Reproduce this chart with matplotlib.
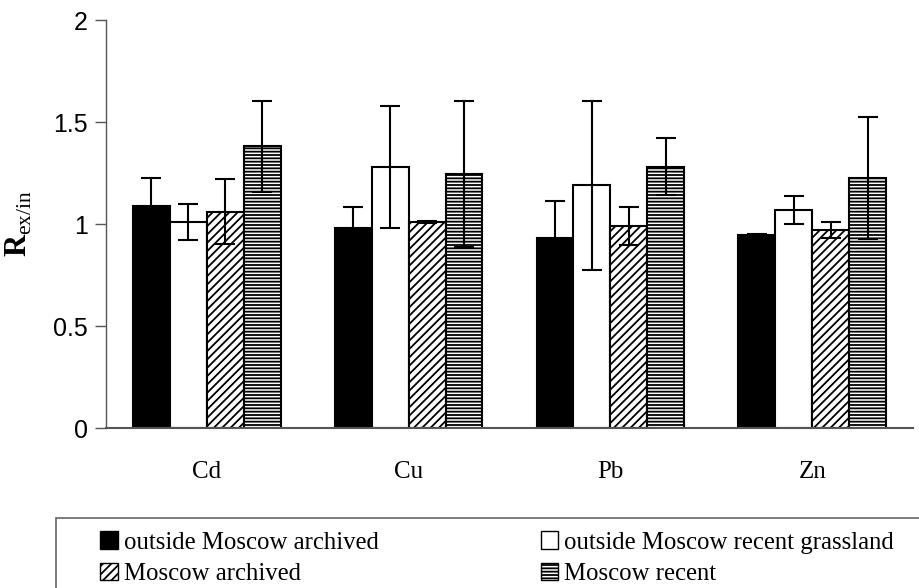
import numpy as np
import matplotlib
matplotlib.use('Agg')
import matplotlib.pyplot as plt
from matplotlib.patches import Patch, Rectangle

METALS = ['Cd', 'Cu', 'Pb', 'Zn']
SERIES = ['outside Moscow archived', 'outside Moscow recent grassland',
          'Moscow archived', 'Moscow recent']

# mean ratios and error half-widths per series, in METALS order
OUT_ARCHIVED = [1.09, 0.98, 0.93, 0.945]
OUT_RECENT = [1.01, 1.28, 1.19, 1.07]
MOS_ARCHIVED = [1.06, 1.01, 0.99, 0.97]
MOS_RECENT = [1.38, 1.245, 1.28, 1.225]

OUT_ARCHIVED_ERR = [0.135, 0.105, 0.185, 0.006]
OUT_RECENT_ERR = [0.09, 0.30, 0.415, 0.068]
MOS_ARCHIVED_ERR = [0.16, 0.004, 0.095, 0.04]
MOS_RECENT_ERR = [0.225, 0.36, 0.14, 0.30]

plt.rcParams['hatch.linewidth'] = 1.3
plt.rcParams['mathtext.fontset'] = 'custom'
plt.rcParams['mathtext.rm'] = 'Liberation Serif'
plt.rcParams['mathtext.bf'] = 'Liberation Serif:bold'

SERIF = 'Liberation Serif'
SANS = 'Liberation Sans'

STYLES = [
  dict(facecolor='black', edgecolor='black', hatch=None),
  dict(facecolor='white', edgecolor='black', hatch=None),
  dict(facecolor='white', edgecolor='black', hatch='////'),
  dict(facecolor='white', edgecolor='black', hatch='-----'),
]

fig = plt.figure(figsize=(9.19, 5.88), dpi=100)
ax = fig.add_axes([106 / 919, 160 / 588, 807 / 919, 408 / 588])

x = np.arange(len(METALS))
width = 0.183
values = [OUT_ARCHIVED, OUT_RECENT, MOS_ARCHIVED, MOS_RECENT]
errors = [OUT_ARCHIVED_ERR, OUT_RECENT_ERR, MOS_ARCHIVED_ERR, MOS_RECENT_ERR]

handles = []
for i, (vals, errs, st) in enumerate(zip(values, errors, STYLES)):
  pos = x + (i - 1.5) * width
  ax.bar(pos, vals, width, linewidth=1.5, zorder=2, **st)
  ax.errorbar(pos, vals, yerr=errs, fmt='none', ecolor='black',
              elinewidth=1.5, capsize=7.5, capthick=1.5, zorder=3)
  handles.append(Patch(linewidth=1.0, label=SERIES[i], **st))

ax.set_xlim(-0.5, len(METALS) - 0.5)
ax.set_ylim(0, 2)
ax.set_yticks([0, 0.5, 1, 1.5, 2])
ax.set_yticklabels(['0', '0.5', '1', '1.5', '2'], fontfamily=SANS, fontsize=18)
ax.set_xticks(x)
ax.set_xticklabels(METALS, fontfamily=SERIF, fontsize=18)
ax.tick_params(axis='x', length=0, pad=24)
ax.tick_params(axis='y', length=8, width=1, color='#555555', pad=5)

for side in ['top', 'right']:
  ax.spines[side].set_visible(False)
ax.spines['left'].set_color('#555555')
ax.spines['bottom'].set_color('#555555')
ax.spines['left'].set_linewidth(1)
ax.spines['bottom'].set_linewidth(1.5)

ax.set_ylabel(r'$\mathbf{R}_{\mathrm{ex/in}}$', fontsize=22, labelpad=14)

# legend box runs off the right edge of the figure
fig.patches.append(Rectangle((56 / 919, -0.05), 1.0, 1 - 518 / 588 + 0.05,
                             transform=fig.transFigure, fill=False,
                             edgecolor='#666666', linewidth=1.2))
order = [0, 2, 1, 3]
fig.legend([handles[k] for k in order], [SERIES[k] for k in order],
           ncol=2, loc='upper left', bbox_to_anchor=(88 / 919, 1 - 519 / 588),
           frameon=False, prop={'family': SERIF, 'size': 17.8},
           handlelength=0.7, handleheight=0.7, handletextpad=0.25,
           columnspacing=6.55, labelspacing=0.38, borderpad=0)

fig.savefig('out.png', dpi=100)
